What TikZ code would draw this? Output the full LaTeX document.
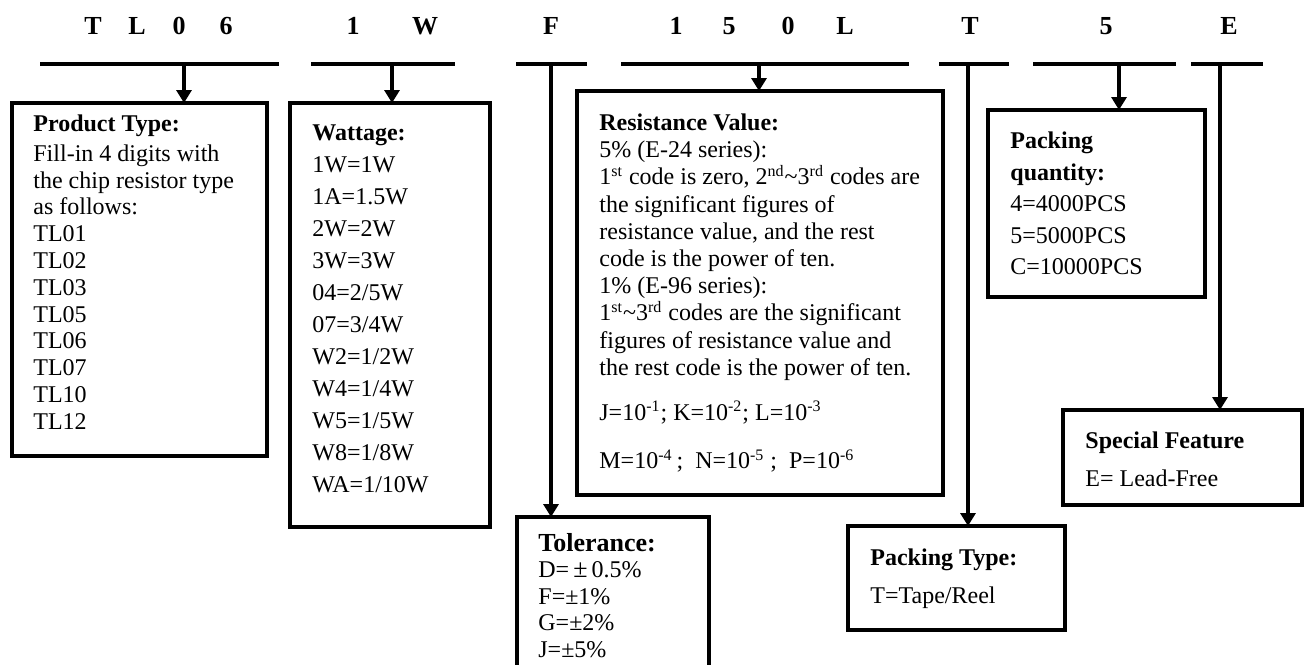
\documentclass[tikz,border=0pt]{standalone}
\usepackage{fontspec}
\setmainfont{Liberation Serif}
\usetikzlibrary{arrows.meta}
\tikzset{
  codel/.style={font=\fontsize{13}{15}\selectfont\bfseries, inner sep=0pt},
  bar/.style={line width=2pt},
  box/.style={draw, line width=1.8pt, inner sep=0pt, outer sep=0pt, anchor=north west},
  txt/.style={align=left, inner sep=0pt, anchor=north west},
  flow/.style={-{Triangle[length=6.5pt,width=7.5pt]}, line width=1.6pt},
}

\begin{document}
\begin{tikzpicture}[x=0.5pt, y=-0.5pt]
  \useasboundingbox (0,0) rectangle (1304,664);
  % part number letters and their bars
  \foreach \x/\c in {93/T,137/L,179/0,226/6,353/1,425/W,551/F,676/1,729/5,788/0,845/L,970/T,1106/5,1229/E}
    \node[codel] (l\x) at (\x,26) {\c};
  \foreach \a/\b in {40/279,311/455,516/587,621/909,939/1009,1033/1176,1191/1263}
    \draw[bar] (\a,64) -- (\b,64);
  \coordinate (s1) at (184,64);
  \coordinate (s2) at (392,64);
  \coordinate (s3) at (551,64);
  \coordinate (s4) at (759,64);
  \coordinate (s5) at (968,64);
  \coordinate (s6) at (1119,64);
  \coordinate (s7) at (1220,64);

  % boxes
  \node[box, minimum width=127.5pt, minimum height=176.5pt] (typebox) at (12,103) {};
  \node[box, minimum width=100pt, minimum height=212pt] (wattbox) at (290,103) {};
  \node[box, minimum width=183pt, minimum height=202pt] (resbox) at (577,91) {};
  \node[box, minimum width=108.5pt, minimum height=93.5pt] (qtybox) at (988,110) {};
  \node[box, minimum width=119.5pt, minimum height=47.5pt] (featbox) at (1063,410) {};
  \node[box, minimum width=96pt, minimum height=85pt] (tolbox) at (517,517) {};
  \node[box, minimum width=108.5pt, minimum height=52pt] (packbox) at (848,526) {};

  % texts
  \node[txt, font=\fontsize{12}{13.4}\selectfont] (typetxt) at (33,114.5)
    {\textbf{Product Type:}\\[1.5pt] Fill-in 4 digits with\\ the chip resistor type\\ as follows:\\
     TL01\\ TL02\\ TL03\\ TL05\\ TL06\\ TL07\\ TL10\\ TL12};
  \node[txt, font=\fontsize{12}{16}\selectfont] (watttxt) at (312,124.5)
    {\textbf{Wattage:}\\ 1W=1W\\ 1A=1.5W\\ 2W=2W\\ 3W=3W\\ 04=2/5W\\ 07=3/4W\\
     W2=1/2W\\ W4=1/4W\\ W5=1/5W\\ W8=1/8W\\ WA=1/10W};
  \node[txt, font=\fontsize{12}{13.6}\selectfont] (restxt) at (599,113.5)
    {\textbf{Resistance Value:}\\ 5\% (E-24 series):\\
     1\textsuperscript{st} code is zero, 2\textsuperscript{nd}\textasciitilde3\textsuperscript{rd} codes are\\
     the significant figures of\\ resistance value, and the rest\\ code is the power of ten.\\
     1\% (E-96 series):\\ 1\textsuperscript{st}\textasciitilde3\textsuperscript{rd} codes are the significant\\
     figures of resistance value and\\ the rest code is the power of ten.\\[9pt]
     J=10\textsuperscript{-1}; K=10\textsuperscript{-2}; L=10\textsuperscript{-3}\\[10.5pt]
     M=10\textsuperscript{-4}\,;\ \ N=10\textsuperscript{-5}\ ;\ \ P=10\textsuperscript{-6}};
  \node[txt, font=\fontsize{12}{15.8}\selectfont] (qtytxt) at (1010,131.5)
    {\textbf{Packing}\\ \textbf{quantity:}\\ 4=4000PCS\\ 5=5000PCS\\ C=10000PCS};
  \node[txt, font=\fontsize{12}{19}\selectfont] (feattxt) at (1085,431.5)
    {\textbf{Special Feature}\\ E= Lead-Free};
  \node[txt, font=\fontsize{12}{13.2}\selectfont] (toltxt) at (538,533)
    {{\fontsize{13}{13}\selectfont\bfseries Tolerance:}\\ D=\,{\fontsize{13}{13}\selectfont ±}\,0.5\%\\
     F=±1\%\\ G=±2\%\\ J=±5\%};
  \node[txt, font=\fontsize{12}{19}\selectfont] (packtxt) at (870,548.5)
    {\textbf{Packing Type:}\\ T=Tape/Reel};

  % arrows
  \draw[flow] (s1) -- (s1 |- typebox.north);
  \draw[flow] (s2) -- (s2 |- wattbox.north);
  \draw[flow] (s3) -- (s3 |- tolbox.north);
  \draw[flow] (s4) -- (s4 |- resbox.north);
  \draw[flow] (s5) -- (s5 |- packbox.north);
  \draw[flow] (s6) -- (s6 |- qtybox.north);
  \draw[flow] (s7) -- (s7 |- featbox.north);
\end{tikzpicture}
\end{document}
